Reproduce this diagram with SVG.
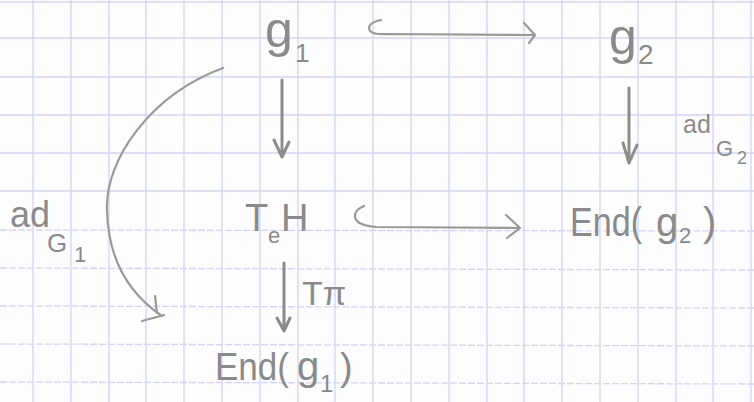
<svg xmlns="http://www.w3.org/2000/svg" width="754" height="402" viewBox="0 0 754 402">
<style>
.grid line{stroke:#d3d3f4;stroke-width:1.3}
.grid .lo{stroke-dasharray:7 2}
.t{font-family:"Liberation Sans","DejaVu Sans",sans-serif;fill:#8a8a8a}
.a{fill:none;stroke:#8c8c8c;stroke-width:3;stroke-linecap:round;stroke-linejoin:round}
.h{fill:none;stroke:#9a9a9a;stroke-width:2.2;stroke-linecap:round;stroke-linejoin:round}
</style>
<rect width="754" height="402" fill="#fdfdff"/>
<g class="grid">
<line x1="33" y1="0" x2="33" y2="402"/><line x1="71" y1="0" x2="71" y2="402"/><line x1="109" y1="0" x2="109" y2="402"/><line x1="146" y1="0" x2="146" y2="402"/><line x1="184" y1="0" x2="184" y2="402"/><line x1="222" y1="0" x2="222" y2="402"/><line x1="260" y1="0" x2="260" y2="402"/><line x1="298" y1="0" x2="298" y2="402"/><line x1="335" y1="0" x2="335" y2="402"/><line x1="373" y1="0" x2="373" y2="402"/><line x1="411" y1="0" x2="411" y2="402"/><line x1="449" y1="0" x2="449" y2="402"/><line x1="487" y1="0" x2="487" y2="402"/><line x1="524" y1="0" x2="524" y2="402"/><line x1="562" y1="0" x2="562" y2="402"/><line x1="600" y1="0" x2="600" y2="402"/><line x1="638" y1="0" x2="638" y2="402"/><line x1="676" y1="0" x2="676" y2="402"/><line x1="713" y1="0" x2="713" y2="402"/><line x1="751" y1="0" x2="751" y2="402"/>
<line x1="0" y1="2" x2="754" y2="2"/><line x1="0" y1="38" x2="754" y2="38"/><line x1="0" y1="77" x2="754" y2="77"/><line x1="0" y1="115" x2="754" y2="115"/><line x1="0" y1="153" x2="754" y2="153"/><line x1="0" y1="191" x2="754" y2="191"/>
<line class="lo" x1="0" y1="230" x2="754" y2="231"/><line class="lo" x1="0" y1="268" x2="754" y2="270"/><line class="lo" x1="0" y1="306" x2="754" y2="308"/><line class="lo" x1="0" y1="344" x2="754" y2="346"/><line class="lo" x1="0" y1="382" x2="754" y2="384"/>
</g>
<g id="g1"><text class="t" x="265" y="47" font-size="50">g</text><text class="t" x="295" y="62" font-size="26">1</text></g>
<g id="g2"><text class="t" x="609" y="54" font-size="50">g</text><text class="t" x="638" y="64" font-size="28">2</text></g>
<g id="TeH"><text class="t" x="245" y="231" font-size="38">T</text><text class="t" x="268" y="243" font-size="22">e</text><text class="t" x="281" y="231" font-size="38">H</text></g>
<g id="Endg2"><text class="t" x="570" y="236" font-size="40" textLength="72" lengthAdjust="spacingAndGlyphs">End(</text><text class="t" x="656" y="236" font-size="40">g</text><text class="t" x="679" y="243" font-size="22">2</text><text class="t" x="703" y="236" font-size="40">)</text></g>
<g id="Endg1"><text class="t" x="215" y="380" font-size="38" textLength="74" lengthAdjust="spacingAndGlyphs">End(</text><text class="t" x="297" y="380" font-size="40">g</text><text class="t" x="320" y="392" font-size="24">1</text><text class="t" x="340" y="380" font-size="38">)</text></g>
<g id="labels">
<text class="t" x="10" y="227" font-size="36">ad</text><text class="t" x="47" y="252" font-size="26">G</text><text class="t" x="74" y="262" font-size="22">1</text>
<text class="t" x="683" y="133" font-size="25">ad</text><text class="t" x="716" y="156" font-size="22">G</text><text class="t" x="737" y="164" font-size="18">2</text>
<text class="t" x="302" y="305" font-size="34">Tπ</text>
</g>
<g id="connectors">
<path class="a" d="M282 80 L282 157 M274 140 L282 157 L289 142"/>
<path class="a" d="M629 88 L629 163 M623 143 L629 163 L637 145"/>
<path class="a" d="M284 263 L284 331 M277 318 L284 331 L290 318"/>
<path class="h" d="M381 20 Q366 23 370 31 Q374 35 388 34 L534 35 M524 23 L535 35 L529 43"/>
<path class="h" d="M364 206 Q352 211 356 220 Q361 226 376 227 L519 228 M506 215 L520 228 L507 238"/>
<path class="h" d="M223 68 C150 95 105 160 107 210 C108 258 128 293 162 316 M155 296 L157 313 M142 321 L164 315"/>
</g>
</svg>
